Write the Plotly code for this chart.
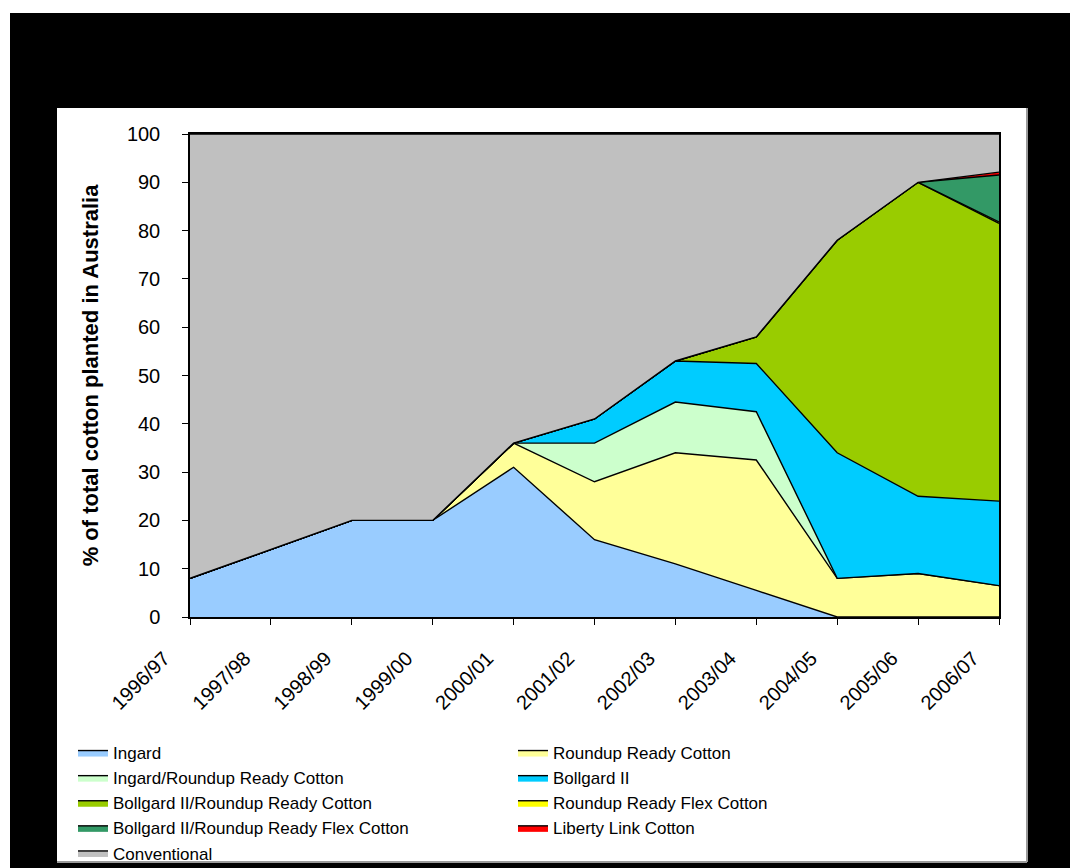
import plotly.graph_objects as go

years = ["1996/97", "1997/98", "1998/99", "1999/00", "2000/01", "2001/02",
         "2002/03", "2003/04", "2004/05", "2005/06", "2006/07"]

ingard =        [8, 14, 20, 20, 31, 16, 11, 5.5, 0, 0, 0]
roundup_ready = [0, 0, 0, 0, 5, 12, 23, 27, 8, 9, 6.5]
ingard_rr =     [0, 0, 0, 0, 0, 8, 10.5, 10, 0, 0, 0]
bollgard2 =     [0, 0, 0, 0, 0, 5, 8.5, 10, 26, 16, 17.5]
bg2_rr =        [0, 0, 0, 0, 0, 0, 0, 5.5, 44, 65, 57.5]
rr_flex =       [0, 0, 0, 0, 0, 0, 0, 0, 0, 0, 0.3]
bg2_rr_flex =   [0, 0, 0, 0, 0, 0, 0, 0, 0, 0, 9.7]
liberty_link =  [0, 0, 0, 0, 0, 0, 0, 0, 0, 0, 0.6]
conventional =  [92, 86, 80, 80, 64, 59, 47, 42, 22, 10, 7.9]

series_names = ["Ingard", "Roundup Ready Cotton", "Ingard/Roundup Ready Cotton",
                "Bollgard II", "Bollgard II/Roundup Ready Cotton",
                "Roundup Ready Flex Cotton", "Bollgard II/Roundup Ready Flex Cotton",
                "Liberty Link Cotton", "Conventional"]
series_values = [ingard, roundup_ready, ingard_rr, bollgard2, bg2_rr,
                 rr_flex, bg2_rr_flex, liberty_link, conventional]
series_colors = ["#99CCFF", "#FFFF99", "#CCFFCC", "#00CCFF", "#99CC00",
                 "#FFFF00", "#339966", "#FF0000", "#C0C0C0"]

y_ticks = [0, 10, 20, 30, 40, 50, 60, 70, 80, 90, 100]

FONT = "Liberation Sans, Arial, sans-serif"

fig = go.Figure()
for name, vals, col in zip(series_names, series_values, series_colors):
    fig.add_trace(go.Scatter(
        x=years, y=vals, name=name, mode="lines",
        stackgroup="one", fillcolor=col,
        line=dict(color="black", width=1.4),
    ))

W, H = 1070, 868
L, R, T, B = 190, 999, 134, 617
pw, ph = R - L, B - T


def px(x):
    return (x - L) / pw


def py(y):
    return (B - y) / ph


shapes = [
    dict(type="rect", xref="paper", yref="paper", layer="below",
         x0=px(10), x1=px(1075), y0=py(875), y1=py(13),
         fillcolor="black", line=dict(width=0)),
    dict(type="rect", xref="paper", yref="paper", layer="below",
         x0=px(57), x1=px(1027), y0=py(862), y1=py(108),
         fillcolor="white", line=dict(width=0)),
    dict(type="line", xref="paper", yref="paper", layer="below",
         x0=px(1027), x1=px(1027), y0=py(862), y1=py(108),
         line=dict(color="#9a9a9a", width=2)),
    dict(type="line", xref="paper", yref="paper", layer="below",
         x0=px(57), x1=px(1027), y0=py(862), y1=py(862),
         line=dict(color="#9a9a9a", width=2)),
]

fig.update_layout(
    width=W, height=H,
    margin=dict(l=L, r=W - R, t=T, b=H - B, autoexpand=False),
    paper_bgcolor="white", plot_bgcolor="#C0C0C0",
    font=dict(family=FONT, color="black", size=19),
    shapes=shapes,
    showlegend=True,
    legend=dict(
        orientation="h", x=px(73), y=py(735), xanchor="left", yanchor="top",
        entrywidth=395, entrywidthmode="pixels", itemwidth=30,
        font=dict(family=FONT, size=17, color="black"),
        bgcolor="rgba(0,0,0,0)", traceorder="normal",
    ),
    xaxis=dict(
        type="category", range=[0, len(years) - 1],
        showgrid=False, zeroline=False,
        showline=True, linecolor="black", linewidth=1.5, mirror=True,
        ticks="outside", ticklen=6, tickcolor="black", tickwidth=1,
        tickangle=-45, tickfont=dict(family=FONT, size=20, color="black"),
        ticklabelstandoff=14, ticklabelshift=-26,
    ),
    yaxis=dict(
        range=[0, 100], tickvals=y_ticks, showgrid=False, zeroline=False,
        showline=True, linecolor="black", linewidth=1.5, mirror=True,
        ticks="outside", ticklen=6, tickcolor="black", tickwidth=1,
        tickfont=dict(family=FONT, size=20, color="black"),
        ticklabelstandoff=18,
        title=dict(text="<b>% of total cotton planted in Australia</b>",
                   font=dict(family=FONT, size=22, color="black"),
                   standoff=22),
    ),
)

fig.write_html("out.html")
